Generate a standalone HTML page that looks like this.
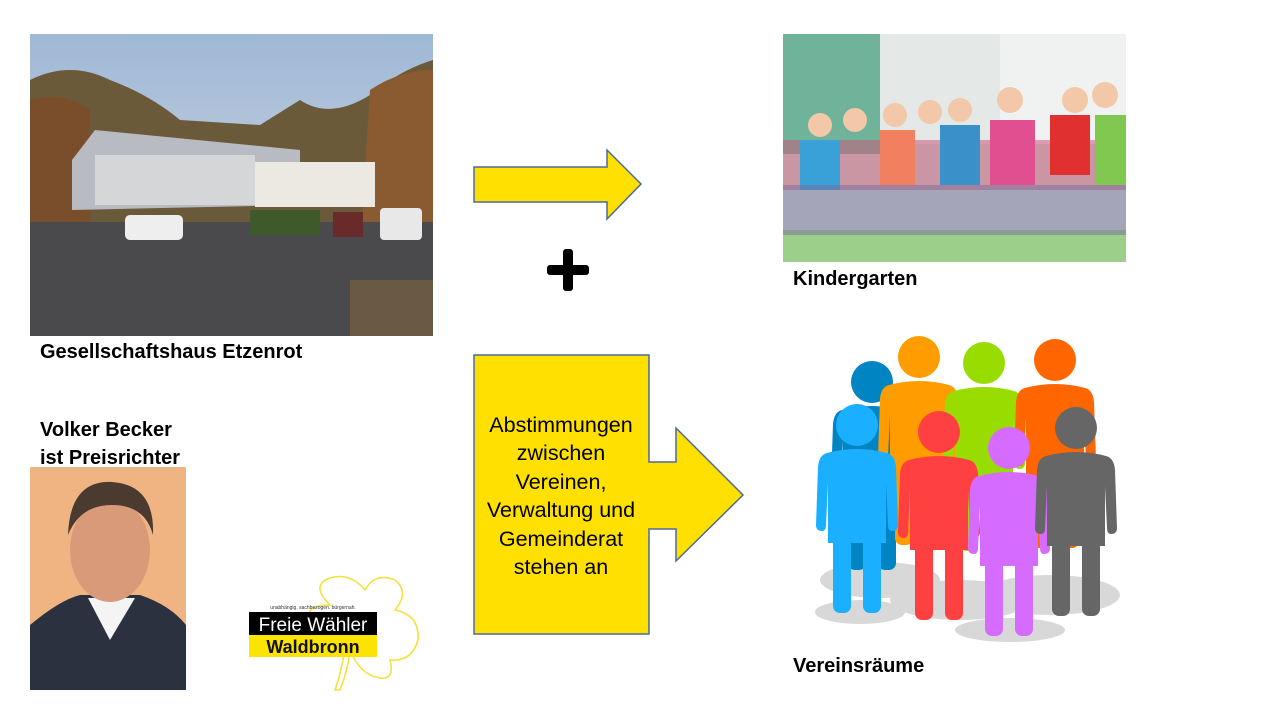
<!DOCTYPE html>
<html><head><meta charset="utf-8"><style>
html,body{margin:0;padding:0;background:#fff;}
body{width:1266px;height:712px;overflow:hidden;position:relative;font-family:"Liberation Sans",sans-serif;}
</style></head><body>
<svg width="1266" height="712" viewBox="0 0 1266 712" xmlns="http://www.w3.org/2000/svg" style="position:absolute;left:0;top:0">
<defs>
<linearGradient id="sky" x1="0" y1="0" x2="0" y2="1"><stop offset="0" stop-color="#9fb8d6"/><stop offset="1" stop-color="#d9dde2"/></linearGradient>
<g id="p">
<circle cx="0" cy="0" r="21"/>
<path d="M-30 28 Q0 20 30 28 Q38 30 39 42 L41 100 Q41 106 35 106 Q31 106 31 100 L29 58 L29 118 L-29 118 L-29 58 L-31 100 Q-31 106 -35 106 Q-41 106 -41 100 L-39 42 Q-38 30 -30 28 Z"/>
<rect x="-24" y="112" width="18" height="76" rx="7"/>
<rect x="6" y="112" width="18" height="76" rx="7"/>
</g>
</defs>

<rect x="30" y="34" width="403" height="302" fill="url(#sky)"/>
<path d="M30 80 Q70 60 110 80 Q150 95 180 120 L260 125 L300 100 Q330 120 370 95 Q400 70 433 60 L433 230 L30 230 Z" fill="#6b5a3a"/>
<path d="M30 100 Q60 90 90 110 L90 230 L30 230Z" fill="#7a4e2a"/>
<path d="M370 90 Q400 70 433 70 L433 250 L360 250Z" fill="#8a5a30"/>
<polygon points="72,160 95,130 300,150 300,205 72,210" fill="#b8bcc2"/>
<rect x="95" y="155" width="160" height="50" fill="#d4d6d8"/>
<rect x="255" y="162" width="120" height="45" fill="#ece8e2"/>
<rect x="30" y="222" width="403" height="114" fill="#4a4a4c"/>
<rect x="250" y="210" width="70" height="25" fill="#3f5a2a"/>
<rect x="350" y="280" width="83" height="56" fill="#6a5a44"/>
<rect x="125" y="215" width="58" height="25" rx="5" fill="#eee"/>
<rect x="333" y="212" width="30" height="25" fill="#6a2a2a"/>
<rect x="380" y="208" width="42" height="32" rx="4" fill="#e8e8e8"/>

<rect x="783" y="34" width="343" height="228" fill="#cfe0d8"/>
<rect x="783" y="34" width="100" height="120" fill="#6fb39a"/>
<rect x="880" y="34" width="120" height="110" fill="#e4e8e6"/>
<rect x="1000" y="34" width="126" height="110" fill="#f0f2f2"/>
<rect x="783" y="230" width="343" height="32" fill="#9ccf8a"/>
<rect x="783" y="140" width="343" height="50" fill="#c85a7a" opacity="0.55"/>
<rect x="800" y="140" width="40" height="50" fill="#3aa0d8"/>
<rect x="880" y="130" width="35" height="55" fill="#f08060"/>
<rect x="940" y="125" width="40" height="60" fill="#3a90c8"/>
<rect x="990" y="120" width="45" height="65" fill="#e05090"/>
<rect x="1050" y="115" width="40" height="60" fill="#e03030"/>
<rect x="1095" y="115" width="31" height="70" fill="#80c850"/>
<rect x="783" y="185" width="343" height="50" fill="#7a6a9a" opacity="0.5"/>
<g fill="#f2c8a8"><circle cx="820" cy="125" r="12"/><circle cx="855" cy="120" r="12"/><circle cx="895" cy="115" r="12"/><circle cx="930" cy="112" r="12"/><circle cx="960" cy="110" r="12"/><circle cx="1010" cy="100" r="13"/><circle cx="1075" cy="100" r="13"/><circle cx="1105" cy="95" r="13"/></g>

<rect x="30" y="467" width="156" height="223" fill="#f0b483"/>
<path d="M30 690 L30 625 Q60 600 80 595 L140 595 Q170 605 186 625 L186 690Z" fill="#2c3140"/>
<path d="M88 598 L110 640 L135 598Z" fill="#f4f4f4"/>
<ellipse cx="110" cy="550" rx="40" ry="52" fill="#d89a78"/>
<path d="M68 535 Q70 480 112 482 Q155 485 153 535 Q145 505 112 505 Q80 505 68 535Z" fill="#4a3a30"/>

<path d="M335 690 Q345 660 345 640 Q320 650 310 630 Q300 605 330 605 Q310 585 330 578 Q350 572 365 590 Q375 572 395 580 Q410 592 395 610 Q420 615 418 640 Q412 662 390 660 Q395 680 380 678 Q360 675 350 650 Q348 670 340 690Z" fill="none" stroke="#f5e042" stroke-width="1.6"/>
<rect x="249" y="612" width="128" height="23" fill="#000"/>
<rect x="249" y="635" width="128" height="22" fill="#fde400"/>
<text x="313" y="609" font-size="5" text-anchor="middle" fill="#333">unabhängig. sachbezogen. bürgernah.</text>
<text x="313" y="631" font-size="19" text-anchor="middle" fill="#fff">Freie Wähler</text>
<text x="313" y="653" font-size="18" font-weight="bold" text-anchor="middle" fill="#111">Waldbronn</text>

<polygon points="474,167 607,167 607,150 641,184 607,219 607,202 474,202" fill="#ffe000" stroke="#4b6a9b" stroke-width="1.5"/>
<rect x="563" y="249" width="10" height="42" rx="3" fill="#000"/>
<rect x="547" y="265" width="42" height="10" rx="3" fill="#000"/>
<polygon points="474,355 649,355 649,462 676,462 676,428 743,495 676,561 676,529 649,529 649,634 474,634" fill="#ffe000" stroke="#4b6a9b" stroke-width="1.5"/>
<g font-family="Liberation Sans, sans-serif" font-size="21.5" text-anchor="middle" fill="#000">
<text x="561" y="432">Abstimmungen</text>
<text x="561" y="460">zwischen</text>
<text x="561" y="489">Vereinen,</text>
<text x="561" y="517">Verwaltung und</text>
<text x="561" y="546">Gemeinderat</text>
<text x="561" y="574">stehen an</text>
</g>

<g fill="#d4d4d4" opacity="0.9">
<ellipse cx="880" cy="580" rx="60" ry="18"/><ellipse cx="960" cy="600" rx="70" ry="20"/><ellipse cx="1050" cy="595" rx="70" ry="20"/><ellipse cx="860" cy="612" rx="45" ry="12"/><ellipse cx="1010" cy="630" rx="55" ry="12"/>
</g>
<use href="#p" x="872" y="382" fill="#0084c2"/>
<use href="#p" x="919" y="357" fill="#ff9c00"/>
<use href="#p" x="984" y="363" fill="#99dd00"/>
<use href="#p" x="1055" y="360" fill="#ff6600"/>
<use href="#p" x="857" y="425" fill="#1ab0ff"/>
<use href="#p" x="939" y="432" fill="#ff4040"/>
<use href="#p" x="1009" y="448" fill="#d66bff"/>
<use href="#p" x="1076" y="428" fill="#666666"/>

<g font-family="Liberation Sans, sans-serif" font-size="20" font-weight="bold" fill="#000">
<text x="40" y="358">Gesellschaftshaus Etzenrot</text>
<text x="793" y="285">Kindergarten</text>
<text x="793" y="672">Vereinsräume</text>
<text x="40" y="436">Volker Becker</text>
<text x="40" y="464">ist Preisrichter</text>
</g>
</svg>
</body></html>
